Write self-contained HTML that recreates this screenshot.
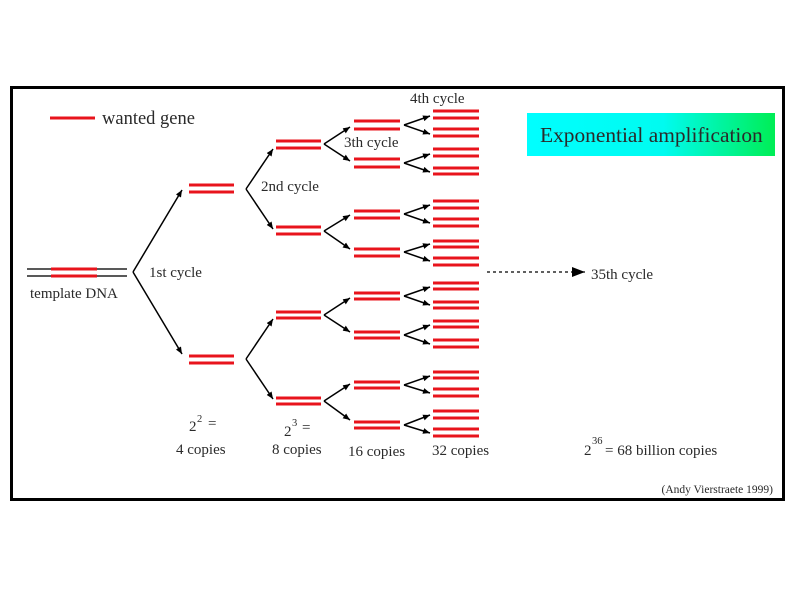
<!DOCTYPE html>
<html><head><meta charset="utf-8"><style>
html,body{margin:0;padding:0;background:#fff;width:800px;height:600px;overflow:hidden}
text{font-family:"Liberation Serif",serif;fill:#2a2a2a}
</style></head><body>
<svg width="800" height="600" viewBox="0 0 800 600" xmlns="http://www.w3.org/2000/svg">
<defs>
<linearGradient id="g" x1="0" x2="1" y1="0" y2="0"><stop offset="0" stop-color="#00ffff"/><stop offset="0.55" stop-color="#00fbf0"/><stop offset="1" stop-color="#00ee55"/></linearGradient>
<marker id="a" markerWidth="8" markerHeight="8" refX="7" refY="4" orient="auto" markerUnits="userSpaceOnUse"><path d="M0,1 L7,4 L0,7 Z" fill="#000"/></marker>
<marker id="b" markerWidth="14" markerHeight="12" refX="13" refY="6" orient="auto" markerUnits="userSpaceOnUse"><path d="M0,1 L13,6 L0,11 Z" fill="#000"/></marker>
</defs>
<rect x="11.5" y="87.5" width="772" height="412" fill="#fff" stroke="#000" stroke-width="3"/>
<rect x="527" y="113" width="248" height="43" fill="url(#g)"/>
<text x="540" y="142" font-size="21.4" fill="#1a1a1a">Exponential amplification</text>
<line x1="50" y1="118" x2="95" y2="118" stroke="#e8141c" stroke-width="3"/>
<text x="102" y="124" font-size="18.5">wanted gene</text>
<g stroke="#222" stroke-width="1.6"><line x1="27" y1="269" x2="127" y2="269"/><line x1="27" y1="276" x2="127" y2="276"/></g>
<g stroke="#e8141c" stroke-width="3"><line x1="51" y1="269" x2="97" y2="269"/><line x1="51" y1="276" x2="97" y2="276"/></g>
<text x="30" y="298" font-size="15">template DNA</text>
<text x="149" y="277" font-size="15">1st cycle</text>
<text x="261" y="191" font-size="15">2nd cycle</text>
<text x="344" y="147" font-size="15">3th cycle</text>
<text x="410" y="103" font-size="15">4th cycle</text>
<g stroke="#000" stroke-width="1.5" fill="none" marker-end="url(#a)">
<path d="M133,272 L182,190"/><path d="M133,272 L182,354"/>
<path d="M246,189 L273,149"/><path d="M246,189 L273,229"/>
<path d="M246,359 L273,319"/><path d="M246,359 L273,399"/>
<path d="M324,144 L350,127"/><path d="M324,144 L350,161"/>
<path d="M324,231 L350,215"/><path d="M324,231 L350,249"/>
<path d="M324,315 L350,298"/><path d="M324,315 L350,332"/>
<path d="M324,401 L350,384"/><path d="M324,401 L350,420"/>
<path d="M404,125 L430,116"/><path d="M404,125 L430,134"/>
<path d="M404,163 L430,154"/><path d="M404,163 L430,172"/>
<path d="M404,214 L430,205"/><path d="M404,214 L430,223"/>
<path d="M404,252 L430,244"/><path d="M404,252 L430,261"/>
<path d="M404,296 L430,287"/><path d="M404,296 L430,305"/>
<path d="M404,335 L430,325"/><path d="M404,335 L430,344"/>
<path d="M404,385 L430,376"/><path d="M404,385 L430,393"/>
<path d="M404,425 L430,415"/><path d="M404,425 L430,433"/>
</g>
<g stroke="#e8141c" stroke-width="3">
<line x1="189" y1="185" x2="234" y2="185"/><line x1="189" y1="192" x2="234" y2="192"/>
<line x1="189" y1="356" x2="234" y2="356"/><line x1="189" y1="363" x2="234" y2="363"/>
<line x1="276" y1="141" x2="321" y2="141"/><line x1="276" y1="148" x2="321" y2="148"/>
<line x1="276" y1="227" x2="321" y2="227"/><line x1="276" y1="234" x2="321" y2="234"/>
<line x1="276" y1="312" x2="321" y2="312"/><line x1="276" y1="318" x2="321" y2="318"/>
<line x1="276" y1="398" x2="321" y2="398"/><line x1="276" y1="404" x2="321" y2="404"/>
<line x1="354" y1="121" x2="400" y2="121"/><line x1="354" y1="129" x2="400" y2="129"/>
<line x1="354" y1="159" x2="400" y2="159"/><line x1="354" y1="167" x2="400" y2="167"/>
<line x1="354" y1="211" x2="400" y2="211"/><line x1="354" y1="218" x2="400" y2="218"/>
<line x1="354" y1="249" x2="400" y2="249"/><line x1="354" y1="256" x2="400" y2="256"/>
<line x1="354" y1="293" x2="400" y2="293"/><line x1="354" y1="299" x2="400" y2="299"/>
<line x1="354" y1="332" x2="400" y2="332"/><line x1="354" y1="338" x2="400" y2="338"/>
<line x1="354" y1="382" x2="400" y2="382"/><line x1="354" y1="388" x2="400" y2="388"/>
<line x1="354" y1="422" x2="400" y2="422"/><line x1="354" y1="428" x2="400" y2="428"/>
</g>
<g stroke="#e8141c" stroke-width="3">
<line x1="433" y1="111" x2="479" y2="111"/><line x1="433" y1="118" x2="479" y2="118"/>
<line x1="433" y1="129" x2="479" y2="129"/><line x1="433" y1="136" x2="479" y2="136"/>
<line x1="433" y1="149" x2="479" y2="149"/><line x1="433" y1="156" x2="479" y2="156"/>
<line x1="433" y1="168" x2="479" y2="168"/><line x1="433" y1="174" x2="479" y2="174"/>
<line x1="433" y1="201" x2="479" y2="201"/><line x1="433" y1="208" x2="479" y2="208"/>
<line x1="433" y1="219" x2="479" y2="219"/><line x1="433" y1="226" x2="479" y2="226"/>
<line x1="433" y1="241" x2="479" y2="241"/><line x1="433" y1="247" x2="479" y2="247"/>
<line x1="433" y1="258" x2="479" y2="258"/><line x1="433" y1="265" x2="479" y2="265"/>
<line x1="433" y1="283" x2="479" y2="283"/><line x1="433" y1="289" x2="479" y2="289"/>
<line x1="433" y1="302" x2="479" y2="302"/><line x1="433" y1="308" x2="479" y2="308"/>
<line x1="433" y1="321" x2="479" y2="321"/><line x1="433" y1="327" x2="479" y2="327"/>
<line x1="433" y1="340" x2="479" y2="340"/><line x1="433" y1="347" x2="479" y2="347"/>
<line x1="433" y1="372" x2="479" y2="372"/><line x1="433" y1="378" x2="479" y2="378"/>
<line x1="433" y1="389" x2="479" y2="389"/><line x1="433" y1="396" x2="479" y2="396"/>
<line x1="433" y1="411" x2="479" y2="411"/><line x1="433" y1="418" x2="479" y2="418"/>
<line x1="433" y1="429" x2="479" y2="429"/><line x1="433" y1="436" x2="479" y2="436"/>
</g>
<line x1="487" y1="272" x2="585" y2="272" stroke="#000" stroke-width="1.3" stroke-dasharray="3,3" marker-end="url(#b)"/>
<text x="591" y="279" font-size="15">35th cycle</text>
<text x="189" y="431" font-size="15">2</text><text x="197" y="422" font-size="10.5">2</text><text x="208" y="428" font-size="15">=</text>
<text x="176" y="454" font-size="15">4 copies</text>
<text x="284" y="436" font-size="15">2</text><text x="292" y="426" font-size="10.5">3</text><text x="302" y="432" font-size="15">=</text>
<text x="272" y="454" font-size="15">8 copies</text>
<text x="348" y="456" font-size="15">16 copies</text>
<text x="432" y="455" font-size="15">32 copies</text>
<text x="584" y="455" font-size="15">2</text><text x="592" y="444" font-size="10.5">36</text>
<text x="605" y="455" font-size="15">= 68 billion copies</text>
<text x="773" y="493" font-size="11.5" text-anchor="end">(Andy Vierstraete 1999)</text>
</svg>
</body></html>
